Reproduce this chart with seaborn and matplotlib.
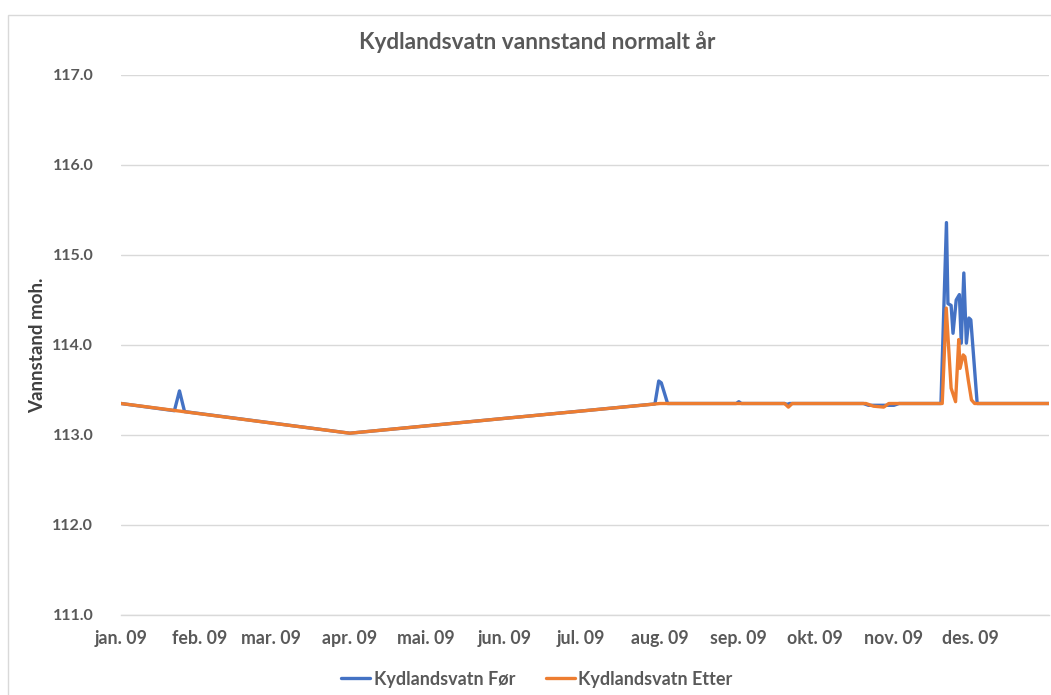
import matplotlib
matplotlib.use("Agg")
import matplotlib.pyplot as plt
import matplotlib.dates as mdates
from matplotlib.patches import Rectangle
import pandas as pd
import seaborn as sns

# ---- data (breakpoints) ----
for_dates = ["2009-01-01", "2009-01-22", "2009-01-24", "2009-01-26", "2009-04-01",
             "2009-07-30", "2009-07-31 12:00", "2009-08-01 12:00", "2009-08-04",
             "2009-08-31", "2009-09-01", "2009-09-02", "2009-09-19", "2009-09-20",
             "2009-09-21", "2009-10-20", "2009-10-22", "2009-11-01", "2009-11-03",
             "2009-11-19 12:00", "2009-11-21 16:00", "2009-11-22 06:00", "2009-11-23 12:00",
             "2009-11-24 06:00", "2009-11-25 12:00", "2009-11-26 18:00", "2009-11-27 12:00",
             "2009-11-28 12:00", "2009-11-29 12:00", "2009-11-30 12:00", "2009-12-01 06:00",
             "2009-12-03 18:00", "2009-12-31 23:00"]
for_values = [113.35, 113.27, 113.49, 113.26, 113.02,
              113.345, 113.60, 113.58, 113.35,
              113.35, 113.37, 113.35, 113.35, 113.34,
              113.35, 113.35, 113.33, 113.33, 113.35,
              113.35, 115.36, 114.46, 114.44,
              114.13, 114.50, 114.56, 114.02,
              114.80, 114.02, 114.30, 114.28,
              113.35, 113.35]

etter_dates = ["2009-01-01", "2009-04-01", "2009-08-01", "2009-09-19",
               "2009-09-20 12:00", "2009-09-22", "2009-10-21", "2009-10-24",
               "2009-10-28", "2009-10-30", "2009-11-20", "2009-11-21 14:00",
               "2009-11-23 12:00", "2009-11-25 06:00", "2009-11-26 12:00", "2009-11-27",
               "2009-11-28 06:00", "2009-11-28 22:00", "2009-11-30 06:00", "2009-12-01 12:00",
               "2009-12-02 18:00", "2009-12-31 23:00"]
etter_values = [113.35, 113.02, 113.35, 113.35,
                113.31, 113.35, 113.35, 113.32,
                113.31, 113.35, 113.35, 114.41,
                113.52, 113.37, 114.06, 113.74,
                113.89, 113.87, 113.61, 113.39,
                113.35, 113.35]

month_labels = ["jan. 09", "feb. 09", "mar. 09", "apr. 09", "mai. 09", "jun. 09",
                "jul. 09", "aug. 09", "sep. 09", "okt. 09", "nov. 09", "des. 09"]
y_ticks = [111.0, 112.0, 113.0, 114.0, 115.0, 116.0, 117.0]

title = "Kydlandsvatn vannstand normalt år"
ylabel = "Vannstand moh."
name_for = "Kydlandsvatn Før"
name_etter = "Kydlandsvatn Etter"

# ---- styling ----
sns.set_theme(style="white")
plt.rcParams["font.family"] = ["Lato", "DejaVu Sans"]

blue = "#4472C4"
orange = "#ED7D31"
txt = "#595959"
grid = "#D9D9D9"

df_for = pd.DataFrame({"dato": pd.to_datetime(for_dates, format="mixed"),
                       "vannstand": for_values})
df_etter = pd.DataFrame({"dato": pd.to_datetime(etter_dates, format="mixed"),
                         "vannstand": etter_values})

fig = plt.figure(figsize=(10.51, 6.95), dpi=100)
# chart-area border
fig.patches.append(Rectangle((8 / 1051, -0.05), 1.2, 1 - 15 / 695 + 0.05,
                             transform=fig.transFigure, fill=False,
                             edgecolor="#D9D9D9", linewidth=1.0))
ax = fig.add_axes([121 / 1051, 1 - 615 / 695, (1049 - 121) / 1051, (615 - 75) / 695])

sns.lineplot(data=df_for, x="dato", y="vannstand", ax=ax, color=blue,
             linewidth=2.4, label=name_for)
sns.lineplot(data=df_etter, x="dato", y="vannstand", ax=ax, color=orange,
             linewidth=2.4, label=name_etter)

ax.set_ylim(111, 117)
ax.set_yticks(y_ticks)
ax.set_yticklabels([f"{v:.1f}" for v in y_ticks])
ax.set_xlim(pd.Timestamp("2009-01-01"), pd.Timestamp("2010-01-01"))
month_pos = pd.date_range("2009-01-01", periods=12, freq="MS")
ax.set_xticks(mdates.date2num(month_pos))
ax.set_xticklabels(month_labels)

ax.grid(axis="y", color=grid, linewidth=1.0)
ax.set_axisbelow(True)
for s in ["top", "right", "left"]:
    ax.spines[s].set_visible(False)
ax.spines["bottom"].set_color(grid)
ax.spines["bottom"].set_linewidth(1.0)

ax.tick_params(axis="y", length=0, pad=20, labelsize=11.5, labelcolor=txt)
ax.tick_params(axis="x", length=6, width=1, color=grid, direction="out",
               pad=5, labelsize=12.8, labelcolor=txt)
for lab in ax.get_xticklabels() + ax.get_yticklabels():
    lab.set_fontweight("bold")

ax.set_xlabel("")
ax.set_ylabel(ylabel, fontsize=13.5, fontweight="bold", color="#404040")
ax.yaxis.label.set_va("center")
ax.yaxis.set_label_coords(38 / 1051, 1 - 345 / 695, transform=fig.transFigure)

fig.text(537 / 1051, 1 - 42 / 695, title, ha="center", va="center",
         fontsize=16.3, fontweight="bold", color=txt)

ax.legend(loc="center", bbox_to_anchor=(537 / 1051, 1 - 679 / 695),
          bbox_transform=fig.transFigure, ncol=2, frameon=False,
          handlelength=1.6, columnspacing=1.7, handletextpad=0.2,
          prop={"size": 13, "weight": "bold"}, labelcolor=txt)

fig.savefig("out.png", dpi=100)
